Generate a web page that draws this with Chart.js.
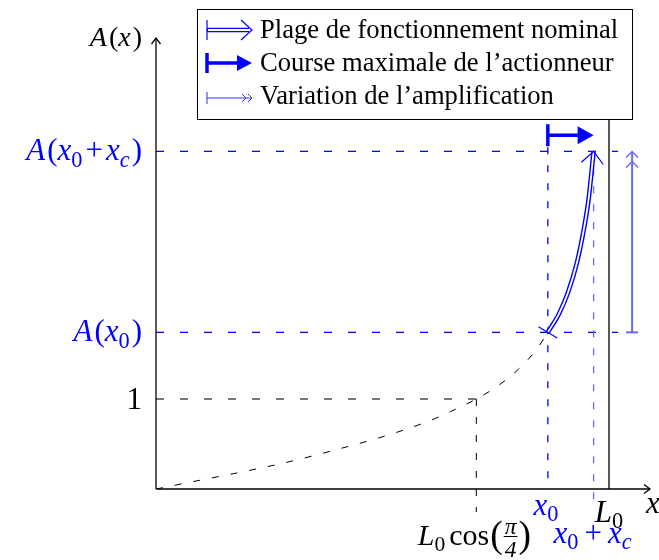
<!DOCTYPE html>
<html>
<head>
<meta charset="utf-8">
<script src="https://cdn.jsdelivr.net/npm/chart.js@4.4.1/dist/chart.umd.min.js"></script>
<style>
  body { margin: 0; background: #fff; }
</style>
</head>
<body>
<canvas id="graphe" width="659" height="560"></canvas>
<script>
// courbe A(x) en pointilles, de 0 a x0 (x en unites de L0)
var curveX = [0, 0.1, 0.2, 0.3, 0.4, 0.5, 0.6, 0.65, 0.7071, 0.75, 0.8, 0.84, 0.865];
var curveA = [0, 0.10, 0.20, 0.31, 0.44, 0.58, 0.75, 0.86, 1.00, 1.13, 1.33, 1.55, 1.74];

// plage de fonctionnement nominal, de x0 a x0 + xc
var nominalX = [0.865, 0.89, 0.91, 0.93, 0.945, 0.955, 0.966];
var nominalA = [1.74, 1.95, 2.19, 2.53, 2.90, 3.22, 3.75];

// reperes sur les axes
var L0 = 1;
var L0cos = 0.7071;
var x0 = 0.865;
var x0xc = 0.966;
var A1 = 1;
var Ax0 = 1.74;
var Ax0xc = 3.75;
var courseA = 3.93;     // hauteur de la fleche "course maximale"
var variationX = 1.051; // position de la fleche "variation"
var xMax = 1.0905;
var yMax = 5.01;

var legendLabels = [
  'Plage de fonctionnement nominal',
  'Course maximale de l\u2019actionneur',
  'Variation de l\u2019amplification'
];

var BLUE = '#0000ff';
var LIGHT = '#6a6aee';
var SERIF = '"Liberation Serif", "DejaVu Serif", serif';

function pts(xs, ys) {
  return xs.map(function (x, i) { return { x: x, y: ys[i] }; });
}

function font(size, italic) {
  return (italic ? 'italic ' : '') + size + 'px ' + SERIF;
}

// petit moteur de formules : ['A','i'] italique, ['(','r'] droit, ['0','s'] indice,
// ['c','si'] indice italique, ['(','big'] grande parenthese, [['π','4'],'f'] fraction, [n] espace
function drawMath(ctx, parts, x, y, size, align, color) {
  var items = parts.map(function (p) {
    var it = { t: p[0], kind: p[1], dy: 0 };
    if (typeof p[0] === 'number') { it.kind = 'gap'; it.w = p[0]; return it; }
    if (it.kind === 'f') {
      it.font = font(size * 0.78, true);
      ctx.font = it.font;
      it.w = Math.max(ctx.measureText(p[0][0]).width, ctx.measureText(p[0][1]).width) + 4;
      return it;
    }
    if (it.kind === 'i') it.font = font(size, true);
    else if (it.kind === 'r') it.font = font(size, false);
    else if (it.kind === 'big') { it.font = font(size * 1.25, false); it.dy = size * 0.06; }
    else if (it.kind === 's') { it.font = font(size * 0.72, false); it.dy = size * 0.2; }
    else if (it.kind === 'si') { it.font = font(size * 0.72, true); it.dy = size * 0.2; }
    ctx.font = it.font;
    it.w = ctx.measureText(it.t).width;
    return it;
  });
  var total = items.reduce(function (s, it) { return s + it.w; }, 0);
  var cx = align === 'right' ? x - total : align === 'center' ? x - total / 2 : x;
  ctx.save();
  ctx.fillStyle = color;
  ctx.strokeStyle = color;
  ctx.textBaseline = 'alphabetic';
  ctx.textAlign = 'left';
  items.forEach(function (it) {
    if (it.kind === 'gap') { cx += it.w; return; }
    ctx.font = it.font;
    if (it.kind === 'f') {
      ctx.textAlign = 'center';
      ctx.fillText(it.t[0], cx + it.w / 2, y - 11);
      ctx.fillText(it.t[1], cx + it.w / 2, y + 12);
      ctx.textAlign = 'left';
      ctx.lineWidth = 1;
      ctx.beginPath();
      ctx.moveTo(cx + 1, y - 8.5);
      ctx.lineTo(cx + it.w - 1, y - 8.5);
      ctx.stroke();
    } else {
      ctx.fillText(it.t, cx, y + it.dy);
    }
    cx += it.w;
  });
  ctx.restore();
}

function line(ctx, x1, y1, x2, y2) {
  ctx.beginPath();
  ctx.moveTo(x1, y1);
  ctx.lineTo(x2, y2);
  ctx.stroke();
}

// pointe ouverte, ang = direction de la fleche
function chevron(ctx, tx, ty, ang, len, half) {
  var c = Math.cos(ang), s = Math.sin(ang);
  ctx.beginPath();
  ctx.moveTo(tx - c * len - s * half, ty - s * len + c * half);
  ctx.lineTo(tx, ty);
  ctx.lineTo(tx - c * len + s * half, ty - s * len - c * half);
  ctx.stroke();
}

function triangle(ctx, tx, ty, len, half) {
  ctx.beginPath();
  ctx.moveTo(tx, ty);
  ctx.lineTo(tx - len, ty - half);
  ctx.lineTo(tx - len, ty + half);
  ctx.closePath();
  ctx.fill();
}

var schema = {
  id: 'schema',
  beforeDatasetsDraw: function (chart) {
    var ctx = chart.ctx, sx = chart.scales.x, sy = chart.scales.y;
    var X = function (v) { return sx.getPixelForValue(v); };
    var Y = function (v) { return sy.getPixelForValue(v); };
    ctx.save();
    ctx.lineCap = 'butt';

    // reperes en pointilles
    ctx.setLineDash([8, 16]);
    ctx.strokeStyle = '#777';
    ctx.lineWidth = 1.8;
    line(ctx, X(0), Y(A1), X(L0cos), Y(A1));
    ctx.strokeStyle = BLUE;
    ctx.lineWidth = 1.3;
    line(ctx, X(0), Y(Ax0), X(1.02), Y(Ax0));
    line(ctx, X(0), Y(Ax0xc), X(1.02), Y(Ax0xc));

    ctx.setLineDash([7, 11]);
    ctx.strokeStyle = '#000';
    ctx.lineWidth = 1;
    line(ctx, X(L0cos), Y(A1), X(L0cos), Y(0) + 23);
    ctx.strokeStyle = BLUE;
    ctx.lineWidth = 1.3;
    line(ctx, X(x0), Y(courseA) + 12, X(x0), Y(0));
    ctx.strokeStyle = LIGHT;
    line(ctx, X(x0xc), Y(courseA) + 15, X(x0xc), Y(0) + 14);
    ctx.setLineDash([]);

    // butee L0
    ctx.strokeStyle = '#111';
    ctx.lineWidth = 1.4;
    line(ctx, X(L0), Y(0), X(L0), chart.chartArea.top + 30);

    // axes
    ctx.strokeStyle = '#000';
    ctx.lineWidth = 1.3;
    var a = chart.chartArea;
    line(ctx, a.left, a.bottom, a.right, a.bottom);
    line(ctx, a.left, a.bottom, a.left, a.top);
    chevron(ctx, a.right, a.bottom, 0, 6, 4.5);
    chevron(ctx, a.left, a.top, -Math.PI / 2, 6, 4.5);
    ctx.restore();
  },
  afterDatasetsDraw: function (chart) {
    var ctx = chart.ctx, sx = chart.scales.x, sy = chart.scales.y;
    var X = function (v) { return sx.getPixelForValue(v); };
    var Y = function (v) { return sy.getPixelForValue(v); };
    ctx.save();
    ctx.lineCap = 'butt';

    // plage nominale : barre au depart, pointe a l'arrivee
    var n = nominalX.length;
    var p0 = { x: X(nominalX[0]), y: Y(nominalA[0]) };
    var p1 = { x: X(nominalX[1]), y: Y(nominalA[1]) };
    var q0 = { x: X(nominalX[n - 2]), y: Y(nominalA[n - 2]) };
    var q1 = { x: X(nominalX[n - 1]), y: Y(nominalA[n - 1]) };
    var a0 = Math.atan2(p1.y - p0.y, p1.x - p0.x);
    var a1 = Math.atan2(q1.y - q0.y, q1.x - q0.x);
    ctx.strokeStyle = BLUE;
    ctx.lineWidth = 1.2;
    var bx = -Math.sin(a0) * 11, by = Math.cos(a0) * 11;
    line(ctx, p0.x - bx, p0.y - by, p0.x + bx, p0.y + by);
    chevron(ctx, q1.x, q1.y, a1, 12, 11);

    // course maximale
    var yc = Y(courseA);
    ctx.lineWidth = 3.5;
    line(ctx, X(x0), yc - 11, X(x0), yc + 11);
    line(ctx, X(x0), yc, X(x0xc) - 14, yc);
    ctx.fillStyle = BLUE;
    triangle(ctx, X(x0xc), yc, 16, 9);

    // variation de l'amplification
    var xv = X(variationX);
    ctx.strokeStyle = LIGHT;
    ctx.lineWidth = 2;
    line(ctx, xv - 6, Y(Ax0), xv + 6, Y(Ax0));
    line(ctx, xv, Y(Ax0), xv, Y(Ax0xc) + 1);
    ctx.lineWidth = 1.4;
    chevron(ctx, xv, Y(Ax0xc), -Math.PI / 2, 6, 6);
    chevron(ctx, xv, Y(Ax0xc) + 10, -Math.PI / 2, 6, 6);

    // etiquettes
    var S = 31;
    drawMath(ctx, [['A', 'i'], [2], ['(', 'r'], ['x', 'i'], [2], [')', 'r']], 142, 46, 28, 'right', '#000');
    drawMath(ctx, [['A', 'i'], [2], ['(', 'r'], ['x', 'i'], ['0', 's'], [3], ['+', 'r'], [3], ['x', 'i'], ['c', 'si'], [2], [')', 'r']],
      142, Y(Ax0xc) + 9, S, 'right', BLUE);
    drawMath(ctx, [['A', 'i'], [2], ['(', 'r'], ['x', 'i'], ['0', 's'], [2], [')', 'r']], 142, Y(Ax0) + 9, S, 'right', BLUE);
    drawMath(ctx, [['1', 'r']], 142, Y(A1) + 10, S, 'right', '#000');
    drawMath(ctx, [['x', 'i'], ['0', 's']], X(x0) - 2, Y(0) + 26, S, 'center', BLUE);
    drawMath(ctx, [['L', 'i'], ['0', 's']], X(L0), Y(0) + 33, S, 'center', '#000');
    drawMath(ctx, [['x', 'i']], X(xMax) - 4, Y(0) + 24, S, 'left', '#000');
    drawMath(ctx, [['L', 'i'], ['0', 's'], [4], ['cos', 'r'], [1], ['(', 'big'], [['\u03c0', '4'], 'f'], [')', 'big']],
      X(L0cos) - 2, Y(0) + 56, 30, 'center', '#000');
    drawMath(ctx, [['x', 'i'], ['0', 's'], [6], ['+', 'r'], [6], ['x', 'i'], ['c', 'si']],
      X(x0xc) - 1, Y(0) + 54, S, 'center', BLUE);

    // legende
    ctx.fillStyle = '#fff';
    ctx.strokeStyle = '#000';
    ctx.lineWidth = 1;
    ctx.fillRect(197.5, 9.5, 435, 110);
    ctx.strokeRect(197.5, 9.5, 435, 110);

    var rows = [30, 63, 98];
    // ligne 1 : double trait
    ctx.strokeStyle = BLUE;
    ctx.lineWidth = 1.2;
    line(ctx, 207, rows[0] - 10, 207, rows[0] + 10);
    ctx.lineWidth = 4.6;
    line(ctx, 207, rows[0], 249, rows[0]);
    ctx.strokeStyle = '#fff';
    ctx.lineWidth = 1.8;
    line(ctx, 208, rows[0], 250, rows[0]);
    ctx.strokeStyle = BLUE;
    ctx.lineWidth = 1.2;
    chevron(ctx, 252, rows[0], 0, 11, 10);
    // ligne 2 : trait epais
    ctx.lineWidth = 3.5;
    line(ctx, 207, rows[1] - 10, 207, rows[1] + 10);
    line(ctx, 207, rows[1], 240, rows[1]);
    ctx.fillStyle = BLUE;
    triangle(ctx, 252, rows[1], 15, 8);
    // ligne 3 : trait fin, double pointe
    ctx.strokeStyle = '#3333ee';
    ctx.lineWidth = 1;
    line(ctx, 207, rows[2] - 6, 207, rows[2] + 6);
    line(ctx, 207, rows[2], 251, rows[2]);
    chevron(ctx, 246, rows[2], 0, 4, 4);
    chevron(ctx, 252, rows[2], 0, 4, 4);

    ctx.fillStyle = '#000';
    ctx.font = font(26.6, false);
    ctx.textAlign = 'left';
    ctx.textBaseline = 'alphabetic';
    ctx.fillText(legendLabels[0], 260, 38);
    ctx.fillText(legendLabels[1], 260, 71);
    ctx.fillText(legendLabels[2], 260, 104);
    ctx.restore();
  }
};

var ctx = document.getElementById('graphe').getContext('2d');
var graphe = new Chart(ctx, {
  type: 'scatter',
  data: {
    datasets: [
      { data: pts(nominalX, nominalA), showLine: true, borderColor: '#fff', borderWidth: 1.8,
        pointRadius: 0, order: 0, cubicInterpolationMode: 'monotone' },
      { data: pts(nominalX, nominalA), showLine: true, borderColor: BLUE, borderWidth: 4.6,
        pointRadius: 0, order: 1, cubicInterpolationMode: 'monotone' },
      { data: pts(curveX, curveA), showLine: true, borderColor: '#000', borderWidth: 1,
        borderDash: [7, 12], pointRadius: 0, order: 2, cubicInterpolationMode: 'monotone' }
    ]
  },
  options: {
    responsive: false,
    animation: false,
    events: [],
    layout: { padding: { left: 156, right: 9, top: 38, bottom: 71 } },
    plugins: { legend: { display: false }, tooltip: { enabled: false } },
    scales: {
      x: { type: 'linear', min: 0, max: xMax, display: false },
      y: { type: 'linear', min: 0, max: yMax, display: false }
    }
  },
  plugins: [schema]
});
</script>
</body>
</html>
